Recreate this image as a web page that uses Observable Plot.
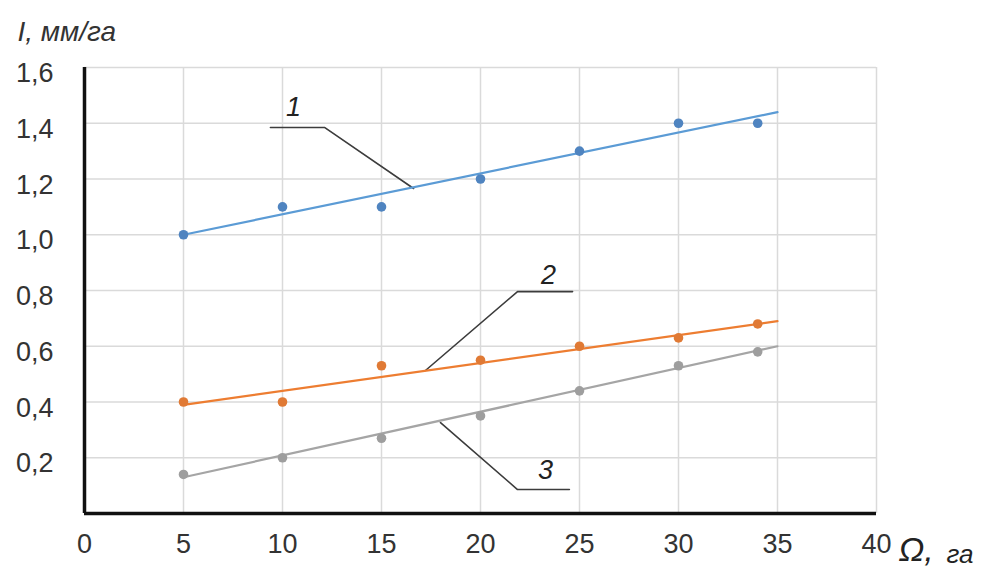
<!DOCTYPE html>
<html>
<head>
<meta charset="utf-8">
<script src="https://cdn.jsdelivr.net/npm/d3@7"></script>
<script src="https://cdn.jsdelivr.net/npm/@observablehq/plot@0.6"></script>
<style>
  html, body { margin: 0; padding: 0; background: #fff; }
  #chart { width: 990px; height: 568px; }
</style>
</head>
<body>
<div id="chart"></div>
<script>
// Field area Ω (га) at which each measurement was taken
const area = [5, 10, 15, 20, 25, 30, 34];

// Measured I (мм/га) for the three series
const series1 = [1.0, 1.1, 1.1, 1.2, 1.3, 1.4, 1.4];
const series2 = [0.4, 0.4, 0.53, 0.55, 0.6, 0.63, 0.68];
const series3 = [0.14, 0.2, 0.27, 0.35, 0.44, 0.53, 0.58];

// Linear trend lines: value at the start and end of the span
const trendSpan = [5, 35];
const trend1 = [1.0, 1.44];
const trend2 = [0.39, 0.69];
const trend3 = [0.13, 0.6];

// Axis ticks and titles
const xTicks = [0, 5, 10, 15, 20, 25, 30, 35, 40];
const yTicks = [0.2, 0.4, 0.6, 0.8, 1.0, 1.2, 1.4, 1.6];
const yTitle = "I, мм/га";
const xTitleSymbol = "Ω,";
const xTitleUnit = "га";

// Callout numbers and their leader polylines (data units)
const calloutLabels = ["1", "2", "3"];
const calloutLabelAt = [[10.56, 1.457], [23.43, 0.854], [23.28, 0.154]];
const calloutLeaders = [
  [[9.39, 1.385], [12.12, 1.385], [16.62, 1.166]],
  [[24.65, 0.796], [21.87, 0.796], [17.22, 0.513]],
  [[24.49, 0.086], [21.87, 0.086], [17.98, 0.326]]
];

const colors = {
  line: ["#5b9bd5", "#ed7d31", "#a5a5a5"],
  dot: ["#4f84c0", "#e07a35", "#9e9e9e"]
};

const seriesList = [series1, series2, series3];
const trendList = [trend1, trend2, trend3];

const pointRows = seriesList.map(vals => area.map((x, i) => ({x, y: vals[i]})));
const trendRows = trendList.map(vals => trendSpan.map((x, i) => ({x, y: vals[i]})));
const leaderRows = calloutLeaders.flatMap((pts, k) => pts.map(([x, y]) => ({k, x, y})));
const labelRows = calloutLabels.map((t, k) => ({t, x: calloutLabelAt[k][0], y: calloutLabelAt[k][1]}));

const font = "'Liberation Sans', Arial, sans-serif";
const comma = d => d.toFixed(1).replace(".", ",");

const chart = Plot.plot({
  width: 990,
  height: 568,
  marginLeft: 84,
  marginRight: 114,
  marginTop: 67,
  marginBottom: 55,
  style: {fontFamily: font, background: "#fff", overflow: "visible"},
  x: {domain: [0, 40]},
  y: {domain: [0, 1.6]},
  marks: [
    Plot.gridX(xTicks.filter(d => d > 0), {stroke: "#dadada", strokeOpacity: 1, strokeWidth: 1.5}),
    Plot.gridY(yTicks, {stroke: "#dadada", strokeOpacity: 1, strokeWidth: 1.5}),
    Plot.axisX(xTicks, {tickSize: 0, tickPadding: 20, fontSize: 27, fill: "#333", label: null}),
    Plot.axisY(yTicks, {tickSize: 0, tickPadding: 31, fontSize: 27, fill: "#333", dy: 6, tickFormat: comma, label: null}),
    Plot.ruleX([0], {stroke: "#111", strokeWidth: 3.5}),
    Plot.ruleY([0], {stroke: "#111", strokeWidth: 3.5}),

    // leader lines from callout numbers to trend lines
    Plot.line(leaderRows, {x: "x", y: "y", z: "k", stroke: "#3c3c3c", strokeWidth: 1.6}),
    Plot.text(labelRows, {x: "x", y: "y", text: "t", fontSize: 27, fontStyle: "italic", fill: "#222"}),

    // trend lines and measured points
    ...trendRows.map((rows, i) => Plot.line(rows, {x: "x", y: "y", stroke: colors.line[i], strokeWidth: 2.2})),
    ...pointRows.map((rows, i) => Plot.dot(rows, {x: "x", y: "y", r: 4.8, fill: colors.dot[i], stroke: "none"})),

    // axis titles
    Plot.text([yTitle], {frameAnchor: "top-left", dx: -67, dy: -35, textAnchor: "start", lineAnchor: "middle",
      fontSize: 28, fontStyle: "italic", fill: "#333"}),
    Plot.text([xTitleSymbol], {frameAnchor: "bottom-right", dx: 22, dy: 37, textAnchor: "start", lineAnchor: "middle",
      fontSize: 34, fontStyle: "italic", fill: "#222"}),
    Plot.text([xTitleUnit], {frameAnchor: "bottom-right", dx: 70, dy: 41, textAnchor: "start", lineAnchor: "middle",
      fontSize: 26, fontStyle: "italic", fill: "#222", letterSpacing: "2px"})
  ]
});

document.getElementById("chart").appendChild(chart);
</script>
</body>
</html>
